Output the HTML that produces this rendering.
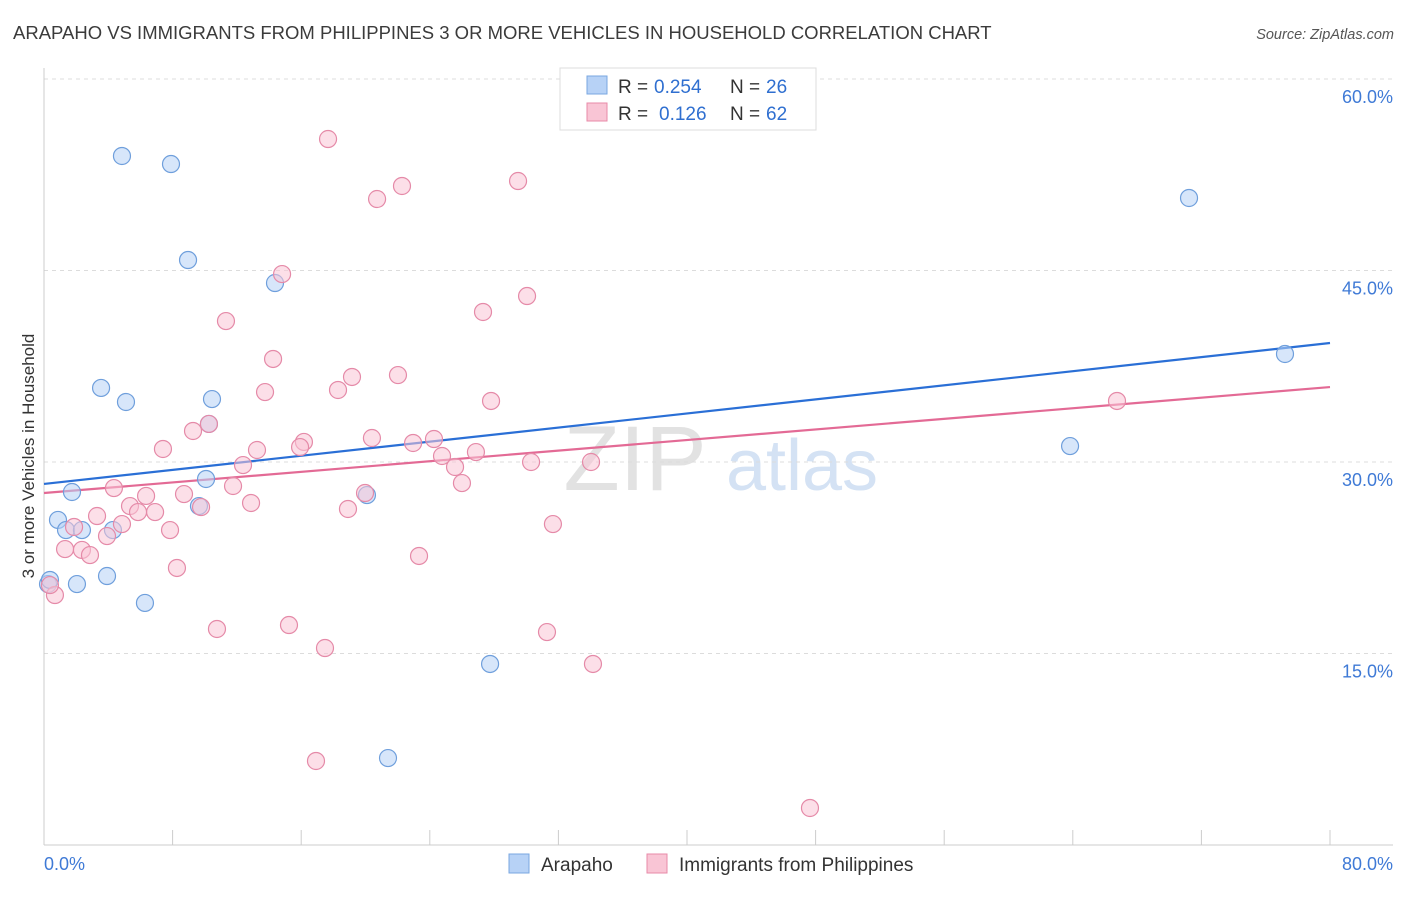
<!DOCTYPE html>
<html><head><meta charset="utf-8"><style>
body{margin:0;background:#fff;font-family:"Liberation Sans",sans-serif}
svg text{font-family:"Liberation Sans",sans-serif}
</style></head><body>
<svg id="chart" width="1406" height="892" xmlns="http://www.w3.org/2000/svg">
<text x="13" y="39" font-size="18.5" fill="#3b3b3b">ARAPAHO VS IMMIGRANTS FROM PHILIPPINES 3 OR MORE VEHICLES IN HOUSEHOLD CORRELATION CHART</text>
<text x="1394" y="39" font-size="14.5" fill="#555" font-style="italic" text-anchor="end">Source: ZipAtlas.com</text>
<g>
<text x="635" y="490" font-size="92" fill="#e2e2e2" font-family="Liberation Serif" text-anchor="middle">ZIP</text>
<text x="802" y="490" font-size="72" fill="#d4e2f4" text-anchor="middle">atlas</text>
</g>
<g id="grid"></g>
<g id="axes"></g>
<g id="trend"></g>
<g id="points"></g>
<text transform="translate(34,456) rotate(-90)" font-size="17" fill="#333" text-anchor="middle">3 or more Vehicles in Household</text>
<g>
<rect x="560" y="68" width="256" height="62" fill="#fff" stroke="#ddd"/>
<rect x="587" y="76" width="20" height="18" fill="#b7d2f6" stroke="#7aa7e0"/>
<rect x="587" y="103" width="20" height="18" fill="#f9c5d5" stroke="#e88aa8"/>
<text x="618" y="93" font-size="19" fill="#333">R =</text>
<text x="654" y="93" font-size="19" fill="#2f6fd0">0.254</text>
<text x="730" y="93" font-size="19" fill="#333">N =</text>
<text x="766" y="93" font-size="19" fill="#2f6fd0">26</text>
<text x="618" y="120" font-size="19" fill="#333">R =</text>
<text x="659" y="120" font-size="19" fill="#2f6fd0">0.126</text>
<text x="730" y="120" font-size="19" fill="#333">N =</text>
<text x="766" y="120" font-size="19" fill="#2f6fd0">62</text>
</g>
<g>
<rect x="509" y="854" width="20" height="19" fill="#b7d2f6" stroke="#7aa7e0"/>
<text x="541" y="871" font-size="19" fill="#333">Arapaho</text>
<rect x="647" y="854" width="20" height="19" fill="#f9c5d5" stroke="#e88aa8"/>
<text x="679" y="871" font-size="19" fill="#333">Immigrants from Philippines</text>
</g>
</svg>
<script>
const yTicks=[15,30,45,60];
const yTickLabels=["15.0%","30.0%","45.0%","60.0%"];
const xTickVals=[0,10,20,30,40,50,60,70,80];
const arapahoX=[4.85,7.9,8.96,14.37,3.55,5.10,10.45,10.26,10.08,1.74,0.87,1.37,2.36,4.29,9.64,20.09,3.92,2.05,0.25,6.28,27.75,21.40,71.23,77.20,63.83,0.37];
const arapahoY=[53.97,53.34,45.82,44.02,35.80,34.70,34.93,32.98,28.67,27.65,25.46,24.67,24.67,24.67,26.55,27.41,21.07,20.44,20.44,18.96,14.18,6.81,50.68,38.46,31.25,20.76];
const philX=[17.67,20.72,22.27,29.49,14.81,11.32,27.31,30.05,14.25,13.75,18.29,19.16,22.02,27.81,10.26,9.27,7.40,13.25,16.17,15.93,20.40,22.96,24.26,24.76,26.87,25.57,30.30,34.03,26.00,12.38,11.76,4.35,6.35,8.71,5.35,9.77,3.30,5.85,6.91,4.85,12.88,18.91,19.97,7.84,1.87,3.92,1.31,2.36,2.86,8.27,31.66,23.33,10.76,15.24,17.48,31.29,34.15,16.92,47.65,66.75,0.68,0.37];
const philY=[55.30,50.60,51.62,52.01,44.72,41.04,41.75,43.00,38.07,35.48,35.64,36.66,36.81,34.78,32.98,32.43,31.02,30.94,31.57,31.17,31.88,31.49,31.80,30.47,30.78,29.61,30.00,30.00,28.35,29.76,28.12,27.96,27.34,27.49,26.55,26.47,25.77,26.08,26.08,25.14,26.79,26.32,27.57,24.67,24.91,24.20,23.18,23.11,22.71,21.70,25.14,22.64,16.92,17.23,15.43,16.68,14.18,6.58,2.90,34.78,19.58,20.36];
const trendStart=[28.28,27.57];
const trendEnd=[39.32,35.87];

const NS="http://www.w3.org/2000/svg";
const X=v=>44+v*(1286/80);
const Y=v=>845-v*(766/60);
function mk(tag,attrs,parent){const e=document.createElementNS(NS,tag);for(const k in attrs)e.setAttribute(k,attrs[k]);document.getElementById(parent).appendChild(e);return e;}

yTicks.forEach((t,i)=>{
  const g=mk('line',{x1:44,x2:1393,y1:Y(t),y2:Y(t),stroke:'#dcdcdc','stroke-dasharray':'4,4'},'grid');
  
  
  const l=mk('text',{x:1393,y:Y(t)+24,'font-size':18,fill:'#3f7ad6','text-anchor':'end'},'grid');
  l.textContent=yTickLabels[i];
  
  
});
const ax=mk('line',{x1:44,x2:44,y1:68,y2:845,stroke:'#ccc'},'axes');


const bx=mk('line',{x1:44,x2:1393,y1:845,y2:845,stroke:'#ccc'},'axes');


for(let k=0;k<=10;k++){
  const t=mk('line',{x1:X(k*8),x2:X(k*8),y1:830,y2:845,stroke:'#ccc'},'axes');
  
  
}
const xl0=mk('text',{x:44,y:870,'font-size':18,fill:'#3f7ad6'},'axes');xl0.textContent='0.0%';


const xl1=mk('text',{x:1393,y:870,'font-size':18,fill:'#3f7ad6','text-anchor':'end'},'axes');xl1.textContent='80.0%';



function pts(xs,ys,fill,stroke,name){
  xs.forEach((x,i)=>{
    const c=mk('circle',{cx:X(x),cy:Y(ys[i]),r:8.5,fill:fill,'fill-opacity':0.55,stroke:stroke,'stroke-width':1.2},'points');
    
    
  });
}
pts(arapahoX,arapahoY,'#b7d2f6','#6f9fdc','arapaho-point');
pts(philX,philY,'#f9c5d5','#e58aa8','philippines-point');
const colors=['#2a6fd6','#e36a95'];
const tn=['arapaho-trendline','philippines-trendline'];
[0,1].forEach(i=>{
  const l=mk('line',{x1:X(0),y1:Y(trendStart[i]),x2:X(80),y2:Y(trendEnd[i]),stroke:colors[i],'stroke-width':2.2},'trend');
  
  
});
</script>
</body></html>
